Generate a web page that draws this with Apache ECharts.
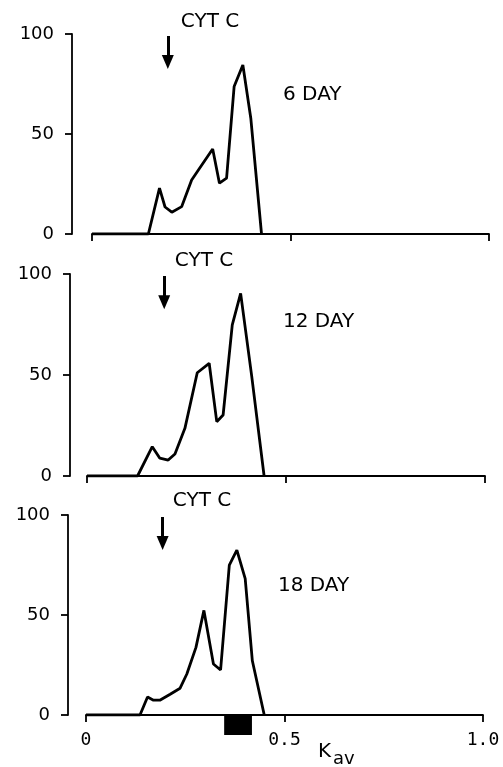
<!DOCTYPE html>
<html>
<head>
<meta charset="utf-8">
<script src="https://cdn.jsdelivr.net/npm/echarts@6/dist/echarts.min.js"></script>
<style>
  html, body { margin: 0; padding: 0; background: #fff; }
  #main { width: 503px; height: 767px; }
</style>
</head>
<body>
<div id="main"></div>
<script>
// elution profiles, Kav vs relative activity
const kav6 = [0, 0.142, 0.170, 0.184, 0.201, 0.226, 0.251, 0.268, 0.304, 0.321, 0.339, 0.358, 0.380, 0.400, 0.427];
const val6 = [0, 0, 22.9, 13.5, 10.9, 13.7, 27, 32, 42.5, 25.4, 27.9, 73.7, 84.5, 57.9, 0];

const kav12 = [0, 0.127, 0.164, 0.183, 0.204, 0.221, 0.246, 0.277, 0.307, 0.326, 0.342, 0.365, 0.386, 0.414, 0.445];
const val12 = [0, 0, 14.5, 8.8, 7.9, 10.9, 23.6, 51.1, 55.8, 26.9, 30.2, 74.8, 90.4, 49.2, 0];

const kav18 = [0, 0.136, 0.155, 0.170, 0.186, 0.212, 0.237, 0.254, 0.277, 0.297, 0.321, 0.339, 0.361, 0.380, 0.401, 0.419, 0.449];
const val18 = [0, 0, 9.0, 7.4, 7.4, 10.4, 13.4, 20.5, 33.8, 52.3, 25.5, 22.5, 74.9, 82.4, 68.2, 27.1, 0];

const panelLabels = ['6 DAY', '12 DAY', '18 DAY'];
const arrowKav = [0.191, 0.194, 0.193];   // cyt c marker
const arrowFrom = 99;
const arrowTo = 86;
const fraction = [0.348, 0.418];          // black bar under 18 day
const xTicks = { 0: '0', 0.5: '0.5', 1: '1.0' };

const myChart = echarts.init(document.getElementById('main'));

const grids = [
  { left: 92, right: 14, top: 34, height: 200 },
  { left: 87, right: 18, top: 274, height: 202 },
  { left: 86, right: 20, top: 515, height: 200 }
];
const yOffsets = [20, 17, 18];
const sets = [[kav6, val6], [kav12, val12], [kav18, val18]];

const ink = '#000';

const xAxes = grids.map((g, i) => ({
  type: 'value',
  gridIndex: i,
  min: 0,
  max: 1,
  interval: 0.5,
  axisLine: { onZero: false, lineStyle: { color: ink, width: 1.8 } },
  axisTick: { show: true, length: 7, lineStyle: { color: ink, width: 1.8 } },
  splitLine: { show: false },
  axisLabel: {
    show: i === 2,
    margin: 16,
    color: ink,
    fontFamily: 'DejaVu Sans Mono',
    fontSize: 18,
    formatter: v => xTicks[v] !== undefined ? xTicks[v] : ''
  }
}));

const yAxes = grids.map((g, i) => ({
  type: 'value',
  gridIndex: i,
  min: 0,
  max: 100,
  interval: 50,
  offset: yOffsets[i],
  axisLine: { show: true, onZero: false, lineStyle: { color: ink, width: 1.8 } },
  axisTick: { show: true, length: 7, lineStyle: { color: ink, width: 1.8 } },
  splitLine: { show: false },
  axisLabel: {
    margin: 18,
    color: ink,
    fontFamily: 'DejaVu Sans',
    fontSize: 18
  }
}));

const series = sets.map((s, i) => ({
  type: 'line',
  xAxisIndex: i,
  yAxisIndex: i,
  data: s[0].map((k, j) => [k, s[1][j]]),
  symbol: 'none',
  lineStyle: { color: ink, width: 2.8 },
  markLine: {
    silent: true,
    symbol: ['none', 'triangle'],
    symbolSize: [12, 14],
    symbolRotate: 180,
    label: { show: false },
    lineStyle: { color: ink, width: 3, type: 'solid' },
    data: [[{ coord: [arrowKav[i], arrowFrom] }, { coord: [arrowKav[i], arrowTo] }]]
  }
}));

series.push({
  type: 'custom',
  xAxisIndex: 2,
  yAxisIndex: 2,
  clip: false,
  data: [fraction],
  renderItem: (params, api) => {
    const a = api.coord([api.value(0), 0]);
    const b = api.coord([api.value(1), 0]);
    return {
      type: 'rect',
      shape: { x: a[0], y: a[1] + 1, width: b[0] - a[0], height: 19 },
      style: { fill: ink }
    };
  }
});

const textFont = { fontFamily: 'DejaVu Sans', fontSize: 20, fill: ink };
const cytPos = [[210, 22], [204, 261], [202, 501]];
const dayPos = [[283, 95], [283, 322], [278, 586]];
const graphics = [];
cytPos.forEach(p => {
  graphics.push({ type: 'text', x: p[0], y: p[1],
    style: Object.assign({ text: 'CYT C', align: 'center', verticalAlign: 'middle' }, textFont) });
});
dayPos.forEach((p, i) => {
  graphics.push({ type: 'text', x: p[0], y: p[1],
    style: Object.assign({ text: panelLabels[i], align: 'left', verticalAlign: 'middle' }, textFont) });
});
graphics.push({ type: 'text', x: 318, y: 752,
  style: Object.assign({ text: 'K', align: 'left', verticalAlign: 'middle' }, textFont) });
graphics.push({ type: 'text', x: 333, y: 759,
  style: { text: 'av', align: 'left', verticalAlign: 'middle', fontFamily: 'DejaVu Sans', fontSize: 18, fill: ink } });

const option = {
  animation: false,
  backgroundColor: '#fff',
  grid: grids,
  xAxis: xAxes,
  yAxis: yAxes,
  series: series,
  graphic: graphics
};
myChart.setOption(option);
</script>
</body>
</html>
